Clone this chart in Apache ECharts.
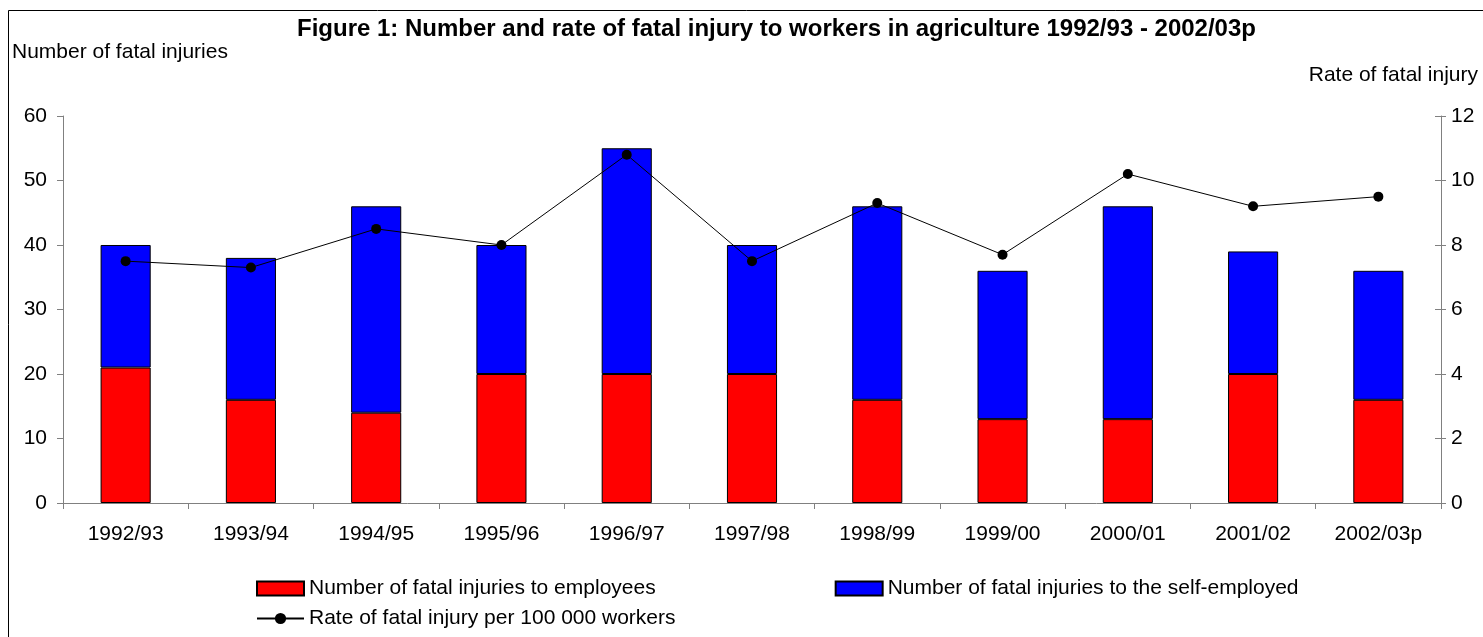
<!DOCTYPE html>
<html>
<head>
<meta charset="utf-8">
<script src="https://cdn.jsdelivr.net/npm/echarts@6/dist/echarts.min.js"></script>
<style>
  html, body { margin: 0; padding: 0; background: #fff; }
  #chart { width: 1483px; height: 637px; }
</style>
</head>
<body>
<div id="chart"></div>
<script>
var years = ['1992/93', '1993/94', '1994/95', '1995/96', '1996/97', '1997/98',
  '1998/99', '1999/00', '2000/01', '2001/02', '2002/03p'];
var employees = [21, 16, 14, 20, 20, 20, 16, 13, 13, 20, 16];
var selfEmployed = [19, 22, 32, 20, 35, 20, 30, 23, 33, 19, 20];
var rate = [7.5, 7.3, 8.5, 8.0, 10.8, 7.5, 9.3, 7.7, 10.2, 9.2, 9.5];

var font = '"Liberation Sans", Arial, sans-serif';
var fs = 21;

var chart = echarts.init(document.getElementById('chart'));

var axisLine = { show: true, lineStyle: { color: '#808080', width: 1 } };
var axisTick = { show: true, length: 6, lineStyle: { color: '#808080' } };

chart.setOption({
  animation: false,
  backgroundColor: '#fff',
  textStyle: { fontFamily: font, color: '#000' },
  title: [
    {
      text: 'Figure 1: Number and rate of fatal injury to workers in agriculture 1992/93 - 2002/03p',
      left: 297, top: 17, padding: 0,
      textStyle: { fontFamily: font, fontSize: 24, fontWeight: 'bold', color: '#000' }
    },
    {
      text: 'Number of fatal injuries',
      left: 12, top: 42, padding: 0,
      textStyle: { fontFamily: font, fontSize: fs, fontWeight: 'normal', color: '#000' }
    },
    {
      text: 'Rate of fatal injury',
      right: 5, top: 65, padding: 0,
      textStyle: { fontFamily: font, fontSize: fs, fontWeight: 'normal', color: '#000' }
    }
  ],
  graphic: [{
    type: 'rect',
    shape: { x: 8.5, y: 10.5, width: 1600, height: 800 },
    style: { fill: 'none', stroke: '#000', lineWidth: 1 },
    silent: true
  }],
  legend: [
    {
      data: ['Number of fatal injuries to employees', 'Number of fatal injuries to the self-employed'],
      left: 256, top: 578, padding: 0,
      icon: 'rect',
      itemWidth: 47, itemHeight: 14, itemGap: 179,
      textStyle: { fontFamily: font, fontSize: fs, color: '#000' }
    },
    {
      data: ['Rate of fatal injury per 100 000 workers'],
      left: 256, top: 608, padding: 0,
      itemWidth: 47, itemHeight: 14,
      textStyle: { fontFamily: font, fontSize: fs, color: '#000' }
    }
  ],
  grid: { left: 63, right: 42, top: 116, bottom: 134 },
  xAxis: {
    type: 'category',
    data: years,
    boundaryGap: true,
    axisLine: axisLine,
    axisTick: { show: true, length: 6, alignWithLabel: false, lineStyle: { color: '#808080' } },
    axisLabel: { fontFamily: font, fontSize: fs, color: '#000', margin: 21 },
    splitLine: { show: false }
  },
  yAxis: [
    {
      type: 'value', min: 0, max: 60, interval: 10,
      axisLine: axisLine, axisTick: axisTick,
      axisLabel: { fontFamily: font, fontSize: fs, color: '#000', margin: 16 },
      splitLine: { show: false }
    },
    {
      type: 'value', min: 0, max: 12, interval: 2, position: 'right',
      axisLine: axisLine, axisTick: { show: true, length: 5, lineStyle: { color: '#808080' } },
      axisLabel: { fontFamily: font, fontSize: fs, color: '#000', margin: 10 },
      splitLine: { show: false }
    },
    {
      // inner half of the crossing ticks on the rate axis
      type: 'value', min: 0, max: 12, interval: 2, position: 'right',
      axisLine: { show: false },
      axisTick: { show: true, inside: true, length: 6, lineStyle: { color: '#808080' } },
      axisLabel: { show: false },
      splitLine: { show: false }
    }
  ],
  series: [
    {
      name: 'Number of fatal injuries to employees',
      type: 'bar', stack: 'n', barWidth: '40%',
      data: employees,
      itemStyle: { color: '#ff0000', borderColor: '#000', borderWidth: 1 }
    },
    {
      name: 'Number of fatal injuries to the self-employed',
      type: 'bar', stack: 'n', barWidth: '40%',
      data: selfEmployed,
      itemStyle: { color: '#0000ff', borderColor: '#000', borderWidth: 1 }
    },
    {
      name: 'Rate of fatal injury per 100 000 workers',
      type: 'line', yAxisIndex: 1,
      data: rate,
      symbol: 'circle', symbolSize: 10,
      lineStyle: { color: '#000', width: 1 },
      itemStyle: { color: '#000' }
    }
  ]
});
</script>
</body>
</html>
